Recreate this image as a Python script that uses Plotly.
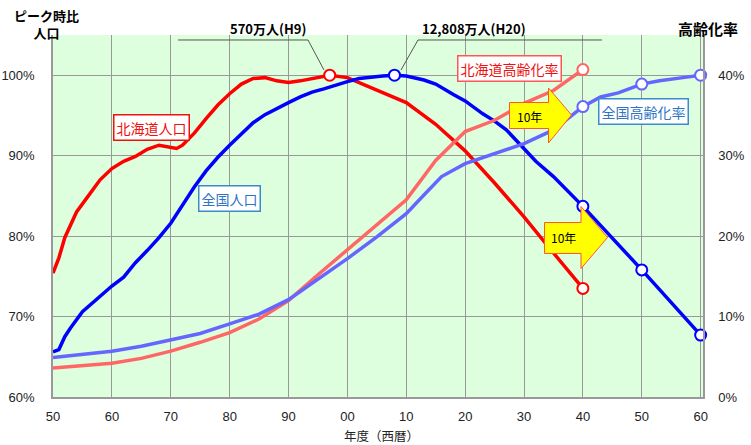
import plotly.graph_objects as go

# ---------------- data ----------------
hk_pop_years = [1950, 1951, 1952, 1954, 1956, 1958, 1960, 1962, 1964, 1966, 1968, 1970, 1971, 1972,
                1974, 1976, 1978, 1980, 1982, 1984, 1986, 1988, 1990, 1992, 1994, 1997, 2000,
                2005, 2010, 2015, 2020, 2025, 2030, 2035, 2040]
hk_pop = [75.4, 77.3, 79.8, 83.0, 85.0, 87.0, 88.4, 89.3, 89.9, 90.8, 91.3, 91.1, 90.9, 91.3,
          92.8, 94.6, 96.3, 97.7, 98.9, 99.6, 99.7, 99.3, 99.1, 99.3, 99.6, 100.0, 99.7,
          98.2, 96.6, 93.9, 90.6, 86.6, 82.4, 77.9, 73.5]

jp_pop_years = [1950, 1951, 1952, 1953, 1955, 1958, 1960, 1962, 1964, 1966, 1968, 1970, 1972,
                1974, 1976, 1978, 1980, 1982, 1984, 1986, 1988, 1990, 1992, 1994, 1996, 1998,
                2000, 2002, 2004, 2006, 2008, 2010, 2013, 2015, 2018, 2020, 2023, 2025, 2027,
                2030, 2032, 2035, 2038, 2040, 2050, 2060]
jp_pop = [65.6, 65.9, 67.5, 68.6, 70.6, 72.5, 73.8, 74.9, 76.7, 78.2, 79.8, 81.6, 83.9,
          86.1, 88.1, 89.8, 91.3, 92.7, 94.1, 95.1, 95.9, 96.6, 97.3, 97.9, 98.3, 98.8,
          99.2, 99.6, 99.8, 99.9, 100.0, 99.9, 99.4, 98.9, 97.6, 96.8, 95.2, 94.3, 93.2,
          90.9, 89.3, 87.4, 85.2, 83.7, 75.8, 67.7]

hk_age_years = [1950, 1955, 1960, 1965, 1970, 1975, 1980, 1985, 1990, 1995, 2000, 2005, 2010,
                2015, 2020, 2025, 2030, 2035, 2040]
hk_age = [3.6, 3.9, 4.2, 4.8, 5.7, 6.8, 8.0, 9.7, 12.0, 15.2, 18.3, 21.3, 24.5,
          29.4, 33.0, 34.4, 36.5, 38.1, 40.7]

jp_age_years = [1950, 1955, 1960, 1965, 1970, 1975, 1980, 1985, 1990, 1995, 2000, 2005, 2010,
                2013, 2016, 2020, 2025, 2030, 2035, 2040, 2043, 2046, 2050, 2053, 2057, 2060]
jp_age = [4.9, 5.3, 5.7, 6.3, 7.1, 7.9, 9.1, 10.3, 12.1, 14.6, 17.2, 19.9, 22.8,
          25.1, 27.4, 29.0, 30.2, 31.5, 33.2, 36.1, 37.3, 37.8, 38.9, 39.3, 39.7, 40.0]

hk_pop_marker_years = [1997, 2040]
jp_pop_marker_years = [2008, 2040, 2050, 2060]
hk_age_marker_years = [2040]
jp_age_marker_years = [2040, 2050, 2060]

x_ticks = list(range(1950, 2061, 10))
x_tick_text = ["50", "60", "70", "80", "90", "00", "10", "20", "30", "40", "50", "60"]
y_ticks = [60, 70, 80, 90, 100]
y_tick_text = ["60%", "70%", "80%", "90%", "100%"]
y2_ticks = [0, 10, 20, 30, 40]
y2_tick_text = ["0%", "10%", "20%", "30%", "40%"]

# ---------------- styles ----------------
RED = "#ff0000"
BLUE = "#0000ff"
SALMON = "#ff6666"
LBLUE = "#6666ff"
BG = "#ddffdd"
GRID = "#999999"
TICKFONT = dict(family="Liberation Sans Narrow, Liberation Sans, Arial", size=13, color="#222222")
JPFONT = "Noto Sans CJK JP"

L, R, T, B = 53, 48, 35, 48
W, H = 751, 445
PW, PH = W - L - R, H - T - B


def px(x):
    return (x - L) / PW


def py(y):
    return (H - B - y) / PH


def lookup(xs, ys, sel):
    return [ys[xs.index(s)] for s in sel]


fig = go.Figure()

for xs, ys, c, ax in [(hk_age_years, hk_age, SALMON, "y2"),
                      (jp_age_years, jp_age, LBLUE, "y2"),
                      (hk_pop_years, hk_pop, RED, "y"),
                      (jp_pop_years, jp_pop, BLUE, "y")]:
    fig.add_trace(go.Scatter(x=xs, y=ys, mode="lines", yaxis=ax,
                             line=dict(color=c, width=3.5), hoverinfo="skip",
                             showlegend=False, cliponaxis=False))

for xs, ys, c, ax, mk in [(hk_age_years, hk_age, SALMON, "y2", hk_age_marker_years),
                          (jp_age_years, jp_age, LBLUE, "y2", jp_age_marker_years),
                          (hk_pop_years, hk_pop, RED, "y", hk_pop_marker_years),
                          (jp_pop_years, jp_pop, BLUE, "y", jp_pop_marker_years)]:
    fig.add_trace(go.Scatter(x=mk, y=lookup(xs, ys, mk), mode="markers", yaxis=ax,
                             marker=dict(size=11, color="white", line=dict(color=c, width=2)),
                             hoverinfo="skip", showlegend=False, cliponaxis=False))

shapes = []
# leader lines
for pts in [[(178, 40), (308, 40), (324, 70)], [(602, 40), (418, 40), (401, 70)]]:
    path = "M " + " L ".join(f"{px(a):.5f},{py(b):.5f}" for a, b in pts)
    shapes.append(dict(type="path", xref="paper", yref="paper", path=path,
                       line=dict(color="#555555", width=1)))


def arrow(x0, xb, xt, yt, yb, yh1, yh2, ym):
    pts = [(x0, yt), (xb, yt), (xb, yh1), (xt, ym), (xb, yh2), (xb, yb), (x0, yb)]
    path = "M " + " L ".join(f"{px(a):.5f},{py(b):.5f}" for a, b in pts) + " Z"
    return dict(type="path", xref="paper", yref="paper", path=path,
                fillcolor="#ffff00", line=dict(color="#ff5533", width=1))


shapes.append(arrow(509.5, 548.5, 571.5, 102.5, 128.5, 88, 143, 115))
shapes.append(arrow(544.5, 581, 607.5, 222.5, 253.5, 206.5, 268.5, 237.5))

annotations = []


def ann(text, x, y, size, color="#000000", bold=False, box=None, family=JPFONT, pad=2):
    d = dict(text=f"<b>{text}</b>" if bold else text, x=px(x), y=py(y), xref="paper", yref="paper",
             showarrow=False, xanchor="center", yanchor="middle",
             font=dict(family=family, size=size, color=color))
    if box:
        d.update(bgcolor="white", bordercolor=box, borderwidth=1.5, borderpad=pad)
    annotations.append(d)


ann("ピーク時比<br>人口", 46, 24, 13)
annotations[-1]["text"] = "<b>ピーク時比<br>人口</b>"
ann("高齢化率", 708, 28, 15, bold=True)
ann("570万人(H9)", 268, 28, 13, bold=True)
ann("12,808万人(H20)", 474, 28, 13, bold=True)
ann("北海道人口", 151, 128, 14, color="#ee1111", box="#ee1111")
ann("全国人口", 229, 198.5, 14, color="#2f75c6", box="#3b8ad0")
ann("北海道高齢化率", 509, 68, 14, color="#ee1111", box="#ff5555")
ann("全国高齢化率", 643, 112, 14, color="#2f75c6", box="#3b8ad0")
ann("10年", 529, 116, 12)
ann("10年", 563, 238, 12)
ann("年度（西暦）", 381, 435, 12.5, color="#222222")

fig.update_layout(
    width=W, height=H,
    margin=dict(l=L, r=R, t=T, b=B, autoexpand=False),
    paper_bgcolor="white", plot_bgcolor=BG,
    shapes=shapes, annotations=annotations,
    xaxis=dict(range=[1950, 2060.4], tickmode="array", tickvals=x_ticks, ticktext=x_tick_text,
               showgrid=True, gridcolor=GRID, gridwidth=1.3, zeroline=False, automargin=False,
               showline=True, linecolor=GRID, linewidth=1.5, ticks="", tickfont=TICKFONT,
               ticklabelstandoff=7, fixedrange=True),
    yaxis=dict(range=[60, 105], tickmode="array", tickvals=y_ticks, ticktext=y_tick_text,
               showgrid=True, gridcolor=GRID, gridwidth=1.3, zeroline=False, automargin=False,
               showline=True, linecolor=GRID, linewidth=1.5, ticks="", tickfont=TICKFONT,
               ticklabelstandoff=14),
    yaxis2=dict(range=[0, 45], overlaying="y", side="right", tickmode="array",
                tickvals=y2_ticks, ticktext=y2_tick_text, showgrid=False, zeroline=False,
                automargin=False, showline=True, linecolor=GRID, linewidth=1.5, ticks="",
                tickfont=TICKFONT, ticklabelstandoff=11),
    showlegend=False,
)

fig.write_html("out.html", config={"displayModeBar": False},
               post_script="document.body.style.margin='0';document.body.style.padding='0';")
